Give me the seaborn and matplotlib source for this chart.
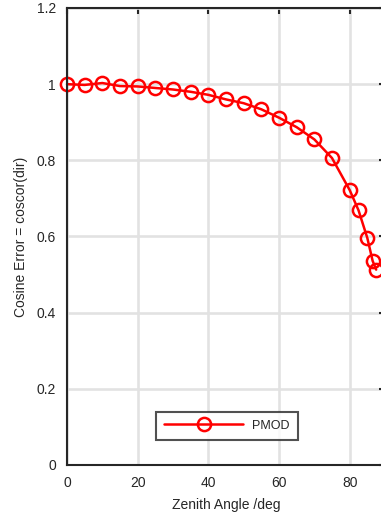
import pandas as pd
import numpy as np
import matplotlib.pyplot as plt
import seaborn as sns

sns.set_style('white')
plt.rcParams['font.family'] = ['Liberation Sans', 'DejaVu Sans']

zenith_deg = [0, 5, 10, 15, 20, 25, 30, 35, 40, 45, 50, 55, 60, 65, 70, 75,
              80, 82.5, 85, 86.5, 87.5]
cos_error = [1.000, 0.998, 1.003, 0.995, 0.994, 0.990, 0.986, 0.980, 0.972,
             0.960, 0.950, 0.934, 0.912, 0.887, 0.855, 0.806,
             0.722, 0.669, 0.596, 0.536, 0.513]
series_name = 'PMOD'

df = pd.DataFrame({'zenith': zenith_deg, 'err': cos_error, 'series': series_name})

fig = plt.figure(figsize=(3.81, 5.18), dpi=100)
ax = fig.add_axes([67 / 381, 53 / 518, 318 / 381, 457 / 518])

sns.lineplot(
    data=df,
    x='zenith',
    y='err',
    hue='series',
    palette=['#ff0000'],
    marker='o',
    markersize=9.5,
    markerfacecolor='none',
    markeredgecolor='#ff0000',
    markeredgewidth=1.8,
    linewidth=1.8,
    ax=ax,
    clip_on=False,
)

ax.set_xlim(0, 90)
ax.set_ylim(0, 1.2)
ax.set_xticks([0, 20, 40, 60, 80])
ax.set_yticks([0, 0.2, 0.4, 0.6, 0.8, 1.0, 1.2])
ax.set_yticklabels(['0', '0.2', '0.4', '0.6', '0.8', '1', '1.2'])

ax.grid(True, color='#e2e2e2', linewidth=1.9)
ax.set_axisbelow(True)
for s in ax.spines.values():
    s.set_color('#262626')
    s.set_linewidth(1.5)
ax.tick_params(direction='in', length=4, width=1.5, color='#262626',
               top=True, right=True, labelsize=10, labelcolor='#262626', pad=8)

ax.set_xlabel('Zenith Angle /deg', fontsize=10, color='#262626', labelpad=6)
ax.set_ylabel('Cosine Error = coscor(dir)', fontsize=10, color='#262626', labelpad=6)

# legend box sized to match the original
leg = ax.legend(loc='lower center', bbox_to_anchor=(0.503, 0.055), fontsize=9,
                frameon=True, fancybox=False, handlelength=6.3, borderpad=0.65,
                handletextpad=0.75, borderaxespad=0)
leg.get_frame().set_edgecolor('#262626')
leg.get_frame().set_linewidth(1.5)

fig.savefig('out.png', dpi=100)
